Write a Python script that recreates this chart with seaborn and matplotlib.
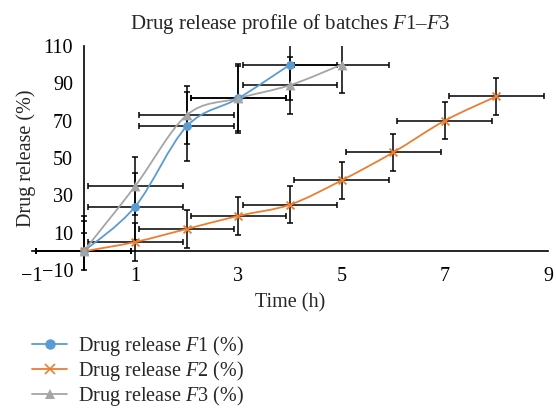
import numpy as np
import pandas as pd
import matplotlib
matplotlib.use("Agg")
import matplotlib.pyplot as plt
import seaborn as sns
from matplotlib.path import Path
from matplotlib.patches import PathPatch
from matplotlib.lines import Line2D

# Data
time_f1 = [0, 1, 2, 3, 4]
release_f1 = [0, 24, 67, 82, 100]
yerr_f1 = [16, 18, 18.5, 18.5, 19]

time_f2 = [0, 1, 2, 3, 4, 5, 6, 7, 8]
release_f2 = [0, 5, 12, 19, 25, 38, 53, 70, 83]
yerr_f2 = [10, 10, 10, 10, 10, 10, 10, 10, 10]

time_f3 = [0, 1, 2, 3, 4, 5]
release_f3 = [0, 35, 73, 82, 89, 100]
yerr_f3 = [19, 15.5, 15.5, 17.3, 15.3, 15.3]

time_err = 0.92
x_ticks = [-1, 1, 3, 5, 7, 9]
y_ticks = [-10, 10, 30, 50, 70, 90, 110]

sns.set_theme(style="white")
plt.rcParams['font.family'] = ['Liberation Serif', 'DejaVu Serif']
plt.rcParams['mathtext.fontset'] = 'custom'
plt.rcParams['mathtext.rm'] = 'Liberation Serif'
plt.rcParams['mathtext.it'] = 'Liberation Serif:italic'
FS = 14.5


def smooth_path(xs, ys):
    """Excel-like smoothed line (Catmull-Rom through the points)."""
    pts = np.column_stack([xs, ys]).astype(float)
    p = np.vstack([pts[0], pts, pts[-1]])
    verts = [pts[0]]
    codes = [Path.MOVETO]
    for i in range(1, len(p) - 2):
        p0, p1, p2, p3 = p[i - 1], p[i], p[i + 1], p[i + 2]
        verts += [p1 + (p2 - p0) / 6, p2 - (p3 - p1) / 6, p2]
        codes += [Path.CURVE4] * 3
    return Path(verts, codes)


fig = plt.figure(figsize=(5.56, 4.09), dpi=100)
ax = fig.add_axes([32 / 556, 1 - 270 / 409, 516 / 556, 224 / 409])

series = [
    ("F1", time_f1, release_f1, yerr_f1, "#5B9BD5", "o", 40),
    ("F2", time_f2, release_f2, yerr_f2, "#ED7D31", "x", 32),
    ("F3", time_f3, release_f3, yerr_f3, "#A5A5A5", "^", 50),
]

handles = []
for name, t, r, ye, color, marker, size in series:
    ax.errorbar(t, r, xerr=time_err, yerr=ye, fmt='none', ecolor='black',
                elinewidth=1.1, capsize=2.5, capthick=1.1, zorder=2)
    ax.add_patch(PathPatch(smooth_path(t, r), facecolor='none',
                           edgecolor=color, lw=1.3, zorder=3))
    df = pd.DataFrame({"t": t, "r": r})
    if marker == "x":
        sns.scatterplot(data=df, x="t", y="r", marker=marker, color=color,
                        s=size, linewidth=1.3, ax=ax, zorder=4)
    else:
        sns.scatterplot(data=df, x="t", y="r", marker=marker, color=color,
                        s=size, edgecolor=color, linewidth=0, ax=ax, zorder=4)
    handles.append(Line2D([], [], color=color, lw=1.3, marker=marker,
                          markersize=7.5, markeredgewidth=1.2 if marker == "x" else 0,
                          label=rf"Drug release ${name[0]}${name[1]} (%)"))

ax.set_xlim(-1, 9)
ax.set_ylim(-10, 110)
ax.set_xticks(x_ticks)
ax.set_yticks(y_ticks)
ax.set_xticklabels([f"{v}".replace("-", "\u2212") for v in x_ticks])
ax.set_yticklabels([f"{v}".replace("-", "\u2212") for v in y_ticks])

for side in ['top', 'right']:
    ax.spines[side].set_visible(False)
ax.spines['left'].set_position(('data', 0))
ax.spines['bottom'].set_position(('data', 0))
ax.spines['left'].set_color('black')
ax.spines['bottom'].set_color('black')
ax.spines['left'].set_linewidth(1.2)
ax.spines['bottom'].set_linewidth(1.2)
ax.tick_params(axis='both', length=0, colors='black', labelsize=FS)
ax.tick_params(axis='x', pad=11)
ax.tick_params(axis='y', pad=7.5)

ax.set_xlabel("Time (h)", fontsize=FS)
ax.set_ylabel("Drug release (%)", fontsize=FS)
ax.yaxis.set_label_coords(0.008, 0.5)
ax.xaxis.set_label_coords(0.5, -0.105)
ax.set_title(r"Drug release profile of batches $F$1–$F$3", fontsize=15, pad=12)

fig.legend(handles=handles, loc='upper left', bbox_to_anchor=(24 / 556, 1 - 326 / 409),
           frameon=False, fontsize=FS, handlelength=1.75, labelspacing=0.05,
           borderaxespad=0, handletextpad=0.55)

fig.savefig("out.png", dpi=100)
